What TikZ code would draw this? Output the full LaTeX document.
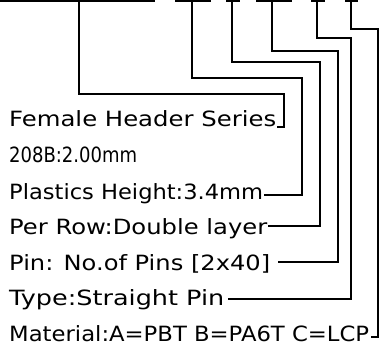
\documentclass[tikz,border=0pt]{standalone}
\usepackage{fontspec}
\setmainfont{DejaVu Sans}
\usepackage{graphicx}
\begin{document}
\begin{tikzpicture}[x=1pt,y=-1pt,
  lbl/.style={anchor=base west,inner sep=0pt,font=\fontsize{21}{23}\selectfont},
  wire/.style={line width=1.3pt,line join=miter}]
\useasboundingbox (0,0) rectangle (383,350);
% part-number template segments
\coordinate (s1) at (79,1);
\coordinate (s2) at (192,1);
\coordinate (s3) at (232,1);
\coordinate (s4) at (272,1);
\coordinate (s5) at (317,1);
\coordinate (s6) at (351,1);
\draw[wire] (0,1) -- (155,1);
\draw[wire] (175,1) -- (211,1);
\draw[wire] (226,1) -- (240,1);
\draw[wire] (256,1) -- (292,1);
\draw[wire] (311,1) -- (325,1);
\draw[wire] (345,1) -- (358,1);
% labels
\node[lbl] (t1) at (9,127) {\resizebox{267pt}{\height}{Female Header Series}};
\node[lbl] (t2) at (9,163) {\resizebox{128pt}{\height}{208B:2.00mm}};
\node[lbl] (t3) at (9,199) {\resizebox{254pt}{\height}{Plastics Height:3.4mm}};
\node[lbl] (t4) at (9,234.5) {\resizebox{258pt}{\height}{Per Row:Double layer}};
\node[lbl] (t5) at (9,270) {\resizebox{261pt}{\height}{Pin: No.of Pins [2x40]}};
\node[lbl] (t6) at (9,305.5) {\resizebox{215pt}{\height}{Type:Straight Pin}};
\node[lbl] (t7) at (9,341.5) {\resizebox{360pt}{\height}{Material:A=PBT B=PA6T C=LCP}};
% connector ends
\coordinate (e1) at (277,127);
\coordinate (e2) at (264,195);
\coordinate (e3) at (268,226);
\coordinate (e4) at (278,262);
\coordinate (e5) at (228,299);
\coordinate (e6) at (371,337);
% connectors
\draw[wire] (s1) |- (284,94) |- (e1);
\draw[wire] (s2) |- (302,78) |- (e2);
\draw[wire] (s3) |- (320,62) |- (e3);
\draw[wire] (s4) |- (338,51) |- (e4);
\draw[wire] (s5) |- (351,38) |- (e5);
\draw[wire] (s6) |- (378,29) |- (e6);
\end{tikzpicture}
\end{document}
